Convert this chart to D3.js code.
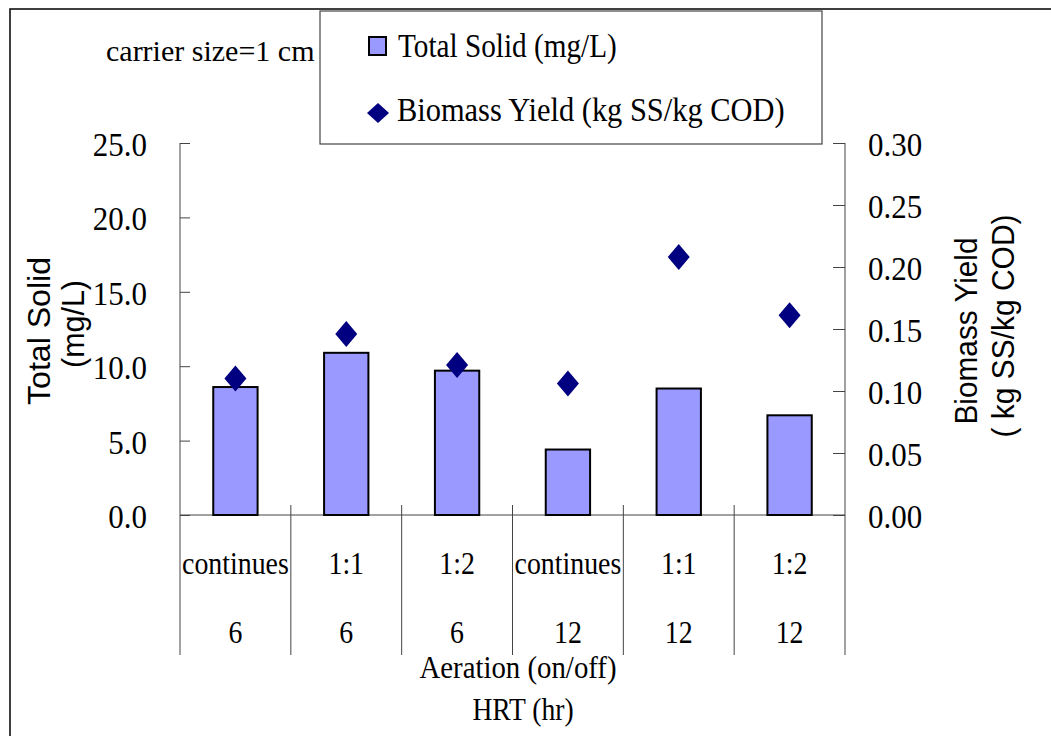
<!DOCTYPE html>
<html>
<head>
<meta charset="utf-8">
<script src="https://cdn.jsdelivr.net/npm/d3@7"></script>
<style>
  body { margin: 0; background: #fff; }
  text { font-family: "Liberation Serif", "Times New Roman", serif; fill: #000; }
  .sans { font-family: "Liberation Sans", Arial, sans-serif; }
</style>
</head>
<body>
<svg id="chart"></svg>
<script>
// chart data
const aeration = ['continues', '1:1', '1:2', 'continues', '1:1', '1:2'];
const hrt = ['6', '6', '6', '12', '12', '12'];
const totalSolid = [8.6, 10.9, 9.7, 4.4, 8.5, 6.7];
const biomassYield = [0.110, 0.146, 0.121, 0.106, 0.208, 0.161];
const leftTicks = [0, 5, 10, 15, 20, 25];
const rightTicks = [0, 0.05, 0.10, 0.15, 0.20, 0.25, 0.30];

const width = 1051, height = 736;
const svg = d3.select('#chart').attr('width', width).attr('height', height);

// text squeezed sideways a bit, like the old office renderer
function txt(parent, x, y, s, size, sx, anchor) {
    return parent.append('text')
        .attr('transform', `translate(${x},${y}) scale(${sx},1)`)
        .attr('font-size', size + 'px')
        .attr('text-anchor', anchor || 'start')
        .text(s);
}

// outer frame (right/bottom run off the picture)
svg.append('rect')
    .attr('x', 10).attr('y', 9)
    .attr('width', 1060).attr('height', 760)
    .attr('fill', 'none').attr('stroke', '#000').attr('stroke-width', 1.5);

const plot = { left: 180, right: 845, top: 143, bottom: 515, labelBottom: 655 };

const x = d3.scaleBand()
    .domain(d3.range(aeration.length))
    .range([plot.left, plot.right])
    .paddingInner(0).paddingOuter(0);

const yL = d3.scaleLinear().domain([0, 25]).range([plot.bottom, plot.top]);
const yR = d3.scaleLinear().domain([0, 0.30]).range([plot.bottom, plot.top]);

const axisColor = '#444';

// left axis, ticks pointing inward
const leftAxis = svg.append('g')
    .attr('transform', `translate(${plot.left},0)`)
    .call(d3.axisRight(yL).tickValues(leftTicks).tickSize(10).tickFormat(''));
leftAxis.select('.domain').remove();
leftAxis.selectAll('line').attr('stroke', axisColor);

const leftLabels = svg.append('g');
leftTicks.forEach(d => txt(leftLabels, 147, yL(d) + 13, d.toFixed(1), 34, 0.91, 'end'));

// right axis
const rightAxis = svg.append('g')
    .attr('transform', `translate(${plot.right},0)`)
    .call(d3.axisLeft(yR).tickValues(rightTicks).tickSize(12).tickFormat(''));
rightAxis.select('.domain').remove();
rightAxis.selectAll('line').attr('stroke', axisColor);

const rightLabels = svg.append('g');
rightTicks.forEach(d => txt(rightLabels, 868, yR(d) + 13, d.toFixed(2), 34, 0.91));

// axis lines extended down through the category table
[plot.left, plot.right].forEach(px => {
    svg.append('line')
        .attr('x1', px).attr('x2', px)
        .attr('y1', plot.top).attr('y2', plot.labelBottom)
        .attr('stroke', axisColor);
});
svg.append('line')
    .attr('x1', plot.left).attr('x2', plot.right)
    .attr('y1', plot.bottom).attr('y2', plot.bottom)
    .attr('stroke', axisColor);

// category separators
svg.append('g').selectAll('line')
    .data(d3.range(1, aeration.length))
    .join('line')
    .attr('x1', i => x(i)).attr('x2', i => x(i))
    .attr('y1', plot.bottom - 10).attr('y2', plot.labelBottom)
    .attr('stroke', axisColor);

// bars
const barW = x.bandwidth() * 0.4;
svg.append('g').selectAll('rect')
    .data(totalSolid)
    .join('rect')
    .attr('x', (d, i) => x(i) + (x.bandwidth() - barW) / 2)
    .attr('y', d => yL(d))
    .attr('width', barW)
    .attr('height', d => yL(0) - yL(d))
    .attr('fill', '#9999ff')
    .attr('stroke', '#000')
    .attr('stroke-width', 2);

// diamonds
const diamond = 'M0,-13L11,0L0,13L-11,0Z';
svg.append('g').selectAll('path')
    .data(biomassYield)
    .join('path')
    .attr('transform', (d, i) => `translate(${x(i) + x.bandwidth() / 2},${yR(d)})`)
    .attr('d', diamond)
    .attr('fill', '#000080');

// category labels
const cats = svg.append('g');
aeration.forEach((s, i) => txt(cats, x(i) + x.bandwidth() / 2, 574, s, 32, 0.87, 'middle'));
hrt.forEach((s, i) => txt(cats, x(i) + x.bandwidth() / 2, 643, s, 32, 0.87, 'middle'));

// x titles
txt(svg, 518, 678, 'Aeration (on/off)', 31, 0.93, 'middle');
txt(svg, 523, 720, 'HRT (hr)', 31, 0.89, 'middle');

// y titles (sans)
function vtitle(bx, cy, s, size, len) {
    svg.append('text')
        .attr('class', 'sans')
        .attr('transform', `translate(${bx},${cy}) rotate(-90)`)
        .attr('text-anchor', 'middle')
        .attr('font-size', size + 'px')
        .attr('textLength', len)
        .attr('lengthAdjust', 'spacingAndGlyphs')
        .text(s);
}
vtitle(50, 331, 'Total Solid', 32, 148);
vtitle(84, 324, '(mg/L)', 32, 88);
vtitle(977, 331, 'Biomass Yield', 31, 187);
vtitle(1014, 326, '( kg SS/kg COD)', 31, 223);

// annotation
txt(svg, 106, 61, 'carrier size=1 cm', 30, 1.0);

// legend
const legend = svg.append('g');
legend.append('rect')
    .attr('x', 320).attr('y', 11)
    .attr('width', 502).attr('height', 133)
    .attr('fill', '#fff')
    .attr('stroke', '#444').attr('stroke-width', 1.2);
legend.append('rect')
    .attr('x', 369).attr('y', 37)
    .attr('width', 17).attr('height', 18)
    .attr('fill', '#9999ff')
    .attr('stroke', '#000').attr('stroke-width', 2);
txt(legend, 398, 57, 'Total Solid (mg/L)', 34, 0.86);
legend.append('path')
    .attr('transform', 'translate(378,113)')
    .attr('d', 'M0,-10L11,0L0,10L-11,0Z')
    .attr('fill', '#000080');
txt(legend, 397, 121, 'Biomass Yield (kg SS/kg COD)', 34, 0.895);
</script>
</body>
</html>
